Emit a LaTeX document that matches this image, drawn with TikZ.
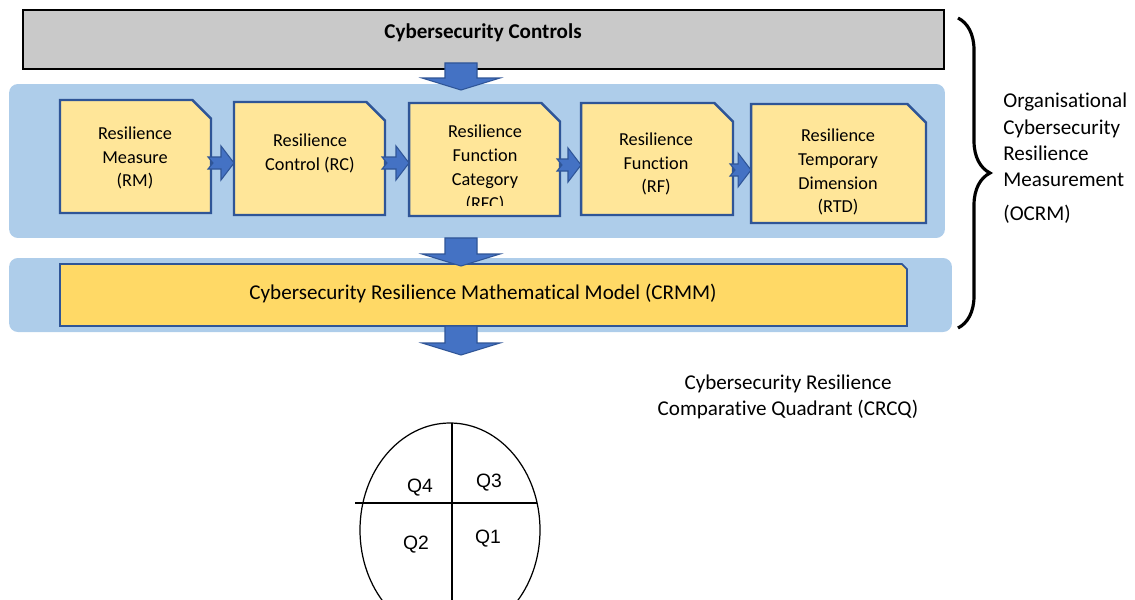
\documentclass[tikz,border=0pt]{standalone}
\usepackage{fontspec}
\setmainfont{Carlito}[Ligatures=NoCommon]
\newfontfamily\quadfont{Liberation Sans}
\usetikzlibrary{calc,decorations.pathreplacing}
\definecolor{panelblue}{RGB}{174,205,234}
\definecolor{lightyellow}{RGB}{255,230,153}
\definecolor{darkyellow}{RGB}{255,217,102}
\definecolor{edgeblue}{RGB}{47,85,151}
\definecolor{arrowblue}{RGB}{68,114,196}
\definecolor{ctrlgray}{RGB}{201,201,201}

% chamfered outline round an (empty) box node
\newcommand{\snipshape}[3]{%
  \filldraw[#3] (#1.south west) -- (#1.north west) -- ([xshift=-#2]#1.north east) -- ([yshift=-#2]#1.north east) -- (#1.south east) -- cycle;}
% wide block arrows
\newcommand{\downblock}[2]{%
  \path #1 coordinate (s) #2 coordinate (t);
  \draw[blockarrow] ($(s)+(-16,0)$) -- ($(t)+(-16,-12)$) -- ($(t)+(-39,-12)$) -- (t) -- ($(t)+(39,-12)$) -- ($(t)+(16,-12)$) -- ($(s)+(16,0)$) -- cycle;}
\newcommand{\sideblock}[3]{%
  \path (0,#3 -| #1.east) coordinate (s) (0,#3 -| #2.west) coordinate (t);
  \draw[blockarrow] ($(s)+(-3,-6)$) -- ($(t)+(-13,-6)$) -- ($(t)+(-13,-17)$) -- (t) -- ($(t)+(-13,17)$) -- ($(t)+(-13,6)$) -- ($(s)+(-3,6)$) -- ($(s)+(2,0)$) -- cycle;}

\begin{document}
\begin{tikzpicture}[x=0.02cm, y=-0.02cm,
    frame/.style={inner sep=0pt, outer sep=0pt},
    panel/.style={frame, fill=panelblue, rounded corners=5pt},
    stage/.style={draw=edgeblue, line width=1.4pt, fill=lightyellow},
    stagetext/.style={align=center, font=\fontsize{10.4}{13.6}\selectfont},
    bigtext/.style={align=center, font=\fontsize{12}{14.8}\selectfont},
    quad/.style={font=\quadfont\fontsize{11}{13}\selectfont},
    blockarrow/.style={fill=arrowblue, draw=edgeblue, line width=0.6pt, line join=miter}]
  \clip (0,0) rectangle (1135,599);

  % top: controls
  \node[frame, draw=black, line width=1.2pt, fill=ctrlgray, minimum width=18.42cm, minimum height=1.18cm] (ctrl) at (483.5,39.5) {};
  \node[bigtext, font=\fontsize{12}{14.8}\selectfont\bfseries] (ctrltext) at (483,33) {Cybersecurity Controls};

  % measurement panel
  \node[panel, minimum width=18.72cm, minimum height=3.08cm] (measpanel) at (477,161) {};
  \node[panel, minimum width=18.86cm, minimum height=1.48cm] (modelpanel) at (480.5,295) {};

  \node[frame, minimum width=3.02cm, minimum height=2.26cm] (rm) at (135.5,156.5) {};
  \node[frame, minimum width=3.02cm, minimum height=2.26cm] (rc) at (309.5,158.5) {};
  \node[frame, minimum width=3.02cm, minimum height=2.26cm] (rfc) at (484.5,159.5) {};
  \node[frame, minimum width=3.04cm, minimum height=2.24cm] (rf) at (657,159) {};
  \node[frame, minimum width=3.50cm, minimum height=2.38cm] (rtd) at (838.5,163.5) {};
  \foreach \b in {rm,rc,rfc,rf,rtd}
    \snipshape{\b}{0.37cm}{stage};

  \node[stagetext] (rmtext) at (135,158) {Resilience\\Measure\\(RM)};
  \node[stagetext] (rctext) at (310,153) {Resilience\\Control (RC)};
  \begin{scope}
    \clip (409,104) rectangle (560,205);
    \node[stagetext] (rfctext) at (485,168.5) {Resilience\\Function\\Category\\(RFC)};
  \end{scope}
  \node[stagetext] (rftext) at (656,164) {Resilience\\Function\\(RF)};
  \node[stagetext] (rtdtext) at (838,172) {Resilience\\Temporary\\Dimension\\(RTD)};

  \sideblock{rm}{rc}{163}
  \sideblock{rc}{rfc}{163}
  \sideblock{rfc}{rf}{165}
  \sideblock{rf}{rtd}{170}

  % model
  \node[frame, minimum width=16.94cm, minimum height=1.24cm] (crmm) at (483.5,295) {};
  \snipshape{crmm}{0.1cm}{draw=edgeblue, line width=1pt, fill=darkyellow}
  \node[bigtext] (crmmtext) at (483,293) {Cybersecurity Resilience Mathematical Model (CRMM)};

  \coordinate (arrowx) at (461,0);
  \coordinate (crcqtop) at (461,355);
  \downblock{($(ctrl.south -| arrowx)+(0,-6)$)}{($(measpanel.north -| arrowx)+(0,6)$)}
  \downblock{(measpanel.south -| arrowx)}{($(modelpanel.north -| arrowx)+(0,8)$)}
  \downblock{($(modelpanel.south -| arrowx)+(0,-6)$)}{(crcqtop)}

  % brace
  \coordinate (bracetop) at (958,18);
  \coordinate (bracebot) at (958,328);
  \draw[decorate, decoration={brace, amplitude=0.64cm}, line width=1.8pt] (bracetop) -- (bracebot);
  \node[bigtext, align=left, anchor=north west, inner sep=0pt] (ocrm) at (1003,93) {Organisational\\Cybersecurity\\Resilience\\Measurement\\[5pt](OCRM)};

  % quadrant
  \node[bigtext] (crcq) at (788,397) {Cybersecurity Resilience\\Comparative Quadrant (CRCQ)};
  \draw[line width=0.7pt] (450,530) ellipse [x radius=90, y radius=107];
  \draw[line width=1.2pt] (355,503) -- (537,503);
  \draw[line width=1.2pt] (452,423) -- (452,610);
  \node[quad] (q4) at (420,488) {Q4};
  \node[quad] (q3) at (489,483) {Q3};
  \node[quad] (q2) at (416,545) {Q2};
  \node[quad] (q1) at (488,539) {Q1};
\end{tikzpicture}
\end{document}
